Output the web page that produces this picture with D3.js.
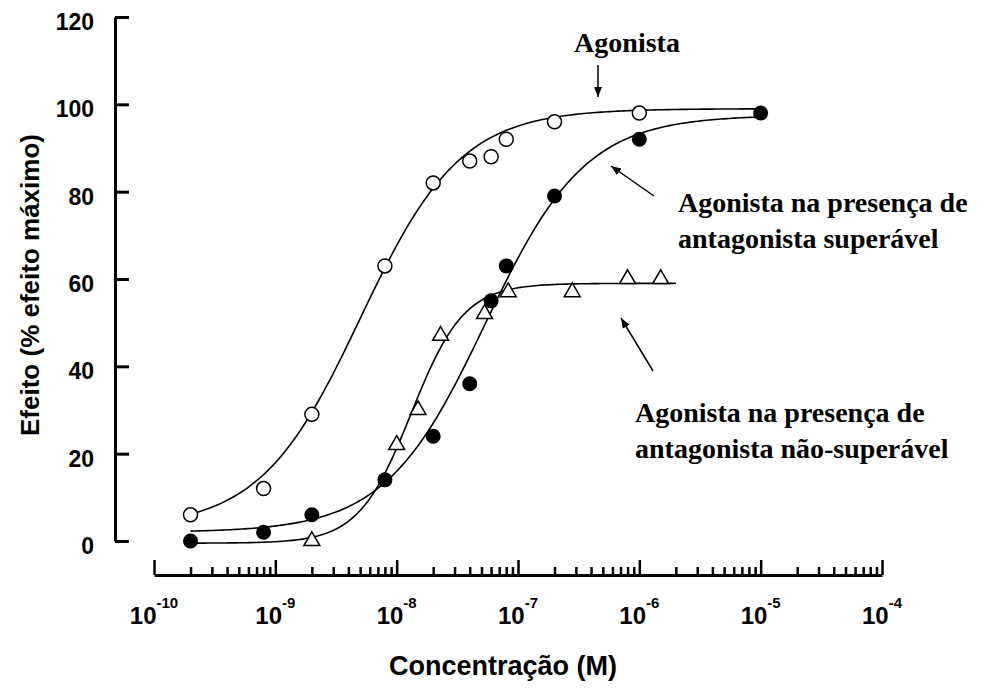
<!DOCTYPE html>
<html>
<head>
<meta charset="utf-8">
<script src="https://cdn.jsdelivr.net/npm/d3@7"></script>
<style>
  html, body { margin: 0; padding: 0; background: #fff; }
  svg { display: block; }
</style>
</head>
<body>
<svg id="chart" width="1000" height="688"></svg>
<script>
// ---------- data ----------
const xDecadeExponents = [-10, -9, -8, -7, -6, -5, -4];
const yTickValues = [0, 20, 40, 60, 80, 100, 120];

// Agonista (open circles)
const agonistConc   = [2e-10, 8e-10, 2e-9, 8e-9, 2e-8, 4e-8, 6e-8, 8e-8, 2e-7, 1e-6];
const agonistEffect = [6, 12, 29, 63, 82, 87, 88, 92, 96, 98];

// Agonista + antagonista superável (filled circles)
const surmConc   = [2e-10, 8e-10, 2e-9, 8e-9, 2e-8, 4e-8, 6e-8, 8e-8, 2e-7, 1e-6, 1e-5];
const surmEffect = [0, 2, 6, 14, 24, 36, 55, 63, 79, 92, 98];

// Agonista + antagonista não-superável (open triangles)
const nonSurmConc   = [2e-9, 1e-8, 1.5e-8, 2.3e-8, 5.3e-8, 8.3e-8, 2.8e-7, 8e-7, 1.5e-6];
const nonSurmEffect = [0, 22, 30, 47, 52, 57, 57, 60, 60];

// fitted curves (Hill equation): agonist, surmountable, non-surmountable
const fitBottom   = [3, 2, -0.5];
const fitTop      = [99, 97.5, 59];
const fitLogEC50  = [-8.3, -7.27, -7.88];
const fitHill     = [1.05, 1.05, 2.0];
const fitFrom     = [2e-10, 2e-10, 2e-10];
const fitTo       = [1e-5, 1e-5, 2e-6];

// ---------- drawing ----------
const svg = d3.select("#chart");
const x = d3.scaleLog().domain([1e-10, 1e-4]).range([154, 882]);
const y = d3.scaleLinear().domain([0, 120]).range([541, 17]);
const xAxisY = 575;

// Y axis
const yAxis = svg.append("g")
  .attr("transform", "translate(115,0)")
  .call(d3.axisLeft(y).tickValues(yTickValues).tickSize(-14).tickSizeOuter(0).tickPadding(22));
yAxis.select(".domain").attr("stroke", "#000").attr("stroke-width", 3);
yAxis.selectAll(".tick line").attr("stroke", "#000").attr("stroke-width", 3);
yAxis.selectAll(".tick text")
  .attr("font-family", "Liberation Sans, Arial, sans-serif")
  .attr("font-weight", "bold").attr("font-size", 23).attr("fill", "#000")
  .attr("x", -21)
  .attr("dy", "0.55em");

// X axis (major)
const xAxis = svg.append("g")
  .attr("transform", `translate(0,${xAxisY})`)
  .call(d3.axisBottom(x).tickValues(xDecadeExponents.map(e => Math.pow(10, e)))
        .tickSize(-15).tickSizeOuter(0).tickFormat(""));
xAxis.select(".domain").attr("stroke", "#000").attr("stroke-width", 3);
xAxis.selectAll(".tick line").attr("stroke", "#000").attr("stroke-width", 2.5);

// X axis minor ticks
const minorVals = [];
xDecadeExponents.slice(0, -1).forEach(e => { for (let k = 2; k <= 9; k++) minorVals.push(k * Math.pow(10, e)); });
const xMinor = svg.append("g")
  .attr("transform", `translate(0,${xAxisY})`)
  .call(d3.axisBottom(x).tickValues(minorVals).tickSize(-8).tickSizeOuter(0).tickFormat(""));
xMinor.select(".domain").remove();
xMinor.selectAll(".tick line").attr("stroke", "#000").attr("stroke-width", 2.5);

// X tick labels 10^n
const xLab = svg.append("g");
xDecadeExponents.forEach(e => {
  const t = xLab.append("text")
    .attr("x", x(Math.pow(10, e))).attr("y", 624)
    .attr("text-anchor", "middle")
    .attr("font-family", "Liberation Sans, Arial, sans-serif")
    .attr("font-weight", "bold").attr("font-size", 24).attr("fill", "#000");
  t.append("tspan").text("10");
  t.append("tspan").attr("dy", -16).attr("font-size", 15).text(String(e));
});

// axis titles
svg.append("text")
  .attr("x", 503).attr("y", 675).attr("text-anchor", "middle")
  .attr("font-family", "Liberation Sans, Arial, sans-serif")
  .attr("font-weight", "bold").attr("font-size", 27).attr("fill", "#000")
  .text("Concentração (M)");
svg.append("text")
  .attr("transform", "translate(39,285) rotate(-90)").attr("text-anchor", "middle")
  .attr("font-family", "Liberation Sans, Arial, sans-serif")
  .attr("font-weight", "bold").attr("font-size", 26).attr("fill", "#000")
  .text("Efeito (% efeito máximo)");

// fitted curves
const line = d3.line().x(d => x(d[0])).y(d => y(d[1]));
for (let i = 0; i < 3; i++) {
  const pts = [];
  const a = Math.log10(fitFrom[i]), b = Math.log10(fitTo[i]);
  for (let j = 0; j <= 200; j++) {
    const lc = a + (b - a) * j / 200;
    const v = fitBottom[i] + (fitTop[i] - fitBottom[i]) / (1 + Math.pow(10, fitHill[i] * (fitLogEC50[i] - lc)));
    pts.push([Math.pow(10, lc), v]);
  }
  svg.append("path").attr("d", line(pts)).attr("fill", "none")
    .attr("stroke", "#000").attr("stroke-width", 1.6);
}

// points
const tri = d3.symbol().type(d3.symbolTriangle).size(110);
svg.append("g").selectAll("path")
  .data(nonSurmConc.map((c, i) => [c, nonSurmEffect[i]]))
  .join("path")
  .attr("d", tri)
  .attr("transform", d => `translate(${x(d[0])},${y(d[1])})`)
  .attr("fill", "#fff").attr("stroke", "#000").attr("stroke-width", 1.5);

svg.append("g").selectAll("circle")
  .data(agonistConc.map((c, i) => [c, agonistEffect[i]]))
  .join("circle")
  .attr("cx", d => x(d[0])).attr("cy", d => y(d[1])).attr("r", 7)
  .attr("fill", "#fff").attr("stroke", "#000").attr("stroke-width", 1.5);

svg.append("g").selectAll("circle")
  .data(surmConc.map((c, i) => [c, surmEffect[i]]))
  .join("circle")
  .attr("cx", d => x(d[0])).attr("cy", d => y(d[1])).attr("r", 7.5)
  .attr("fill", "#000");

// annotations
const defs = svg.append("defs");
defs.append("marker").attr("id", "ah").attr("viewBox", "0 0 10 10")
  .attr("refX", 10).attr("refY", 5).attr("markerWidth", 10).attr("markerHeight", 10)
  .attr("markerUnits", "userSpaceOnUse").attr("orient", "auto")
  .append("path").attr("d", "M0,1 L10,5 L0,9 Z").attr("fill", "#000");

function arrow(x1, y1, x2, y2) {
  svg.append("line").attr("x1", x1).attr("y1", y1).attr("x2", x2).attr("y2", y2)
    .attr("stroke", "#000").attr("stroke-width", 1.5).attr("marker-end", "url(#ah)");
}
function label(lines, x0, y0, anchor) {
  const t = svg.append("text")
    .attr("font-family", "Liberation Serif, Times New Roman, serif")
    .attr("font-weight", "bold").attr("font-size", 28).attr("fill", "#000")
    .attr("text-anchor", anchor);
  lines.forEach((s, i) => t.append("tspan").attr("x", x0).attr("y", y0 + i * 36).text(s));
}
label(["Agonista"], 627, 52, "middle");
arrow(598, 65, 598, 97);
label(["Agonista na presença de", "antagonista superável"], 678, 212, "start");
arrow(654, 196, 611, 166);
label(["Agonista na presença de", "antagonista não-superável"], 635, 422, "start");
arrow(653, 371, 621, 318);
</script>
</body>
</html>
